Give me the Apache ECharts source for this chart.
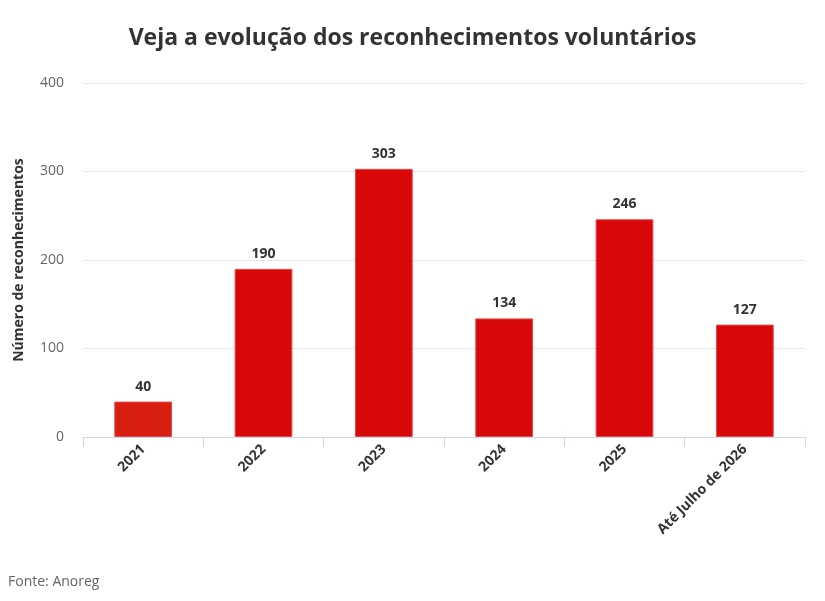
<!DOCTYPE html>
<html lang="pt">
<head>
<meta charset="UTF-8">
<title>Reconhecimentos voluntários</title>
<script src="https://cdn.jsdelivr.net/npm/echarts@6/dist/echarts.min.js"></script>
<style>
    html, body { margin: 0; padding: 0; background: #fff; }
</style>
</head>
<body>
<div id="chart" style="width: 825px; height: 601px"></div>
<script type="text/javascript">
    var categories = ['2021', '2022', '2023', '2024', '2025', 'Até Julho de 2026'];
    var values = [40, 190, 303, 134, 246, 127];
    var barColors = ['#d81e0e', '#d90808', '#d90808', '#d90808', '#d90808', '#d90808'];
    var yTicks = { min: 0, max: 400, interval: 100 };

    var font = '"Open Sans", sans-serif';
    var myChart = echarts.init(document.getElementById('chart'));

    var option = {
        animation: false,
        textStyle: { fontFamily: font },
        title: [{
            text: 'Veja a evolução dos reconhecimentos voluntários',
            left: 'center',
            top: 22,
            textStyle: { fontFamily: font, fontSize: 23, fontWeight: 'bold', color: '#333333' }
        }, {
            text: 'Fonte: Anoreg',
            left: 3,
            top: 570,
            textStyle: { fontFamily: font, fontSize: 14, fontWeight: 'normal', color: '#666666' }
        }],
        grid: { left: 83, right: 20, top: 83, bottom: 164 },
        xAxis: {
            type: 'category',
            data: categories,
            axisLine: { lineStyle: { color: '#ccd6eb' } },
            axisTick: { show: true, length: 10, lineStyle: { color: '#ccd6eb' } },
            axisLabel: {
                rotate: 45,
                interval: 0,
                margin: 10,
                fontFamily: font,
                fontSize: 14,
                fontWeight: 'bold',
                color: '#333333'
            }
        },
        yAxis: {
            type: 'value',
            min: yTicks.min,
            max: yTicks.max,
            interval: yTicks.interval,
            name: 'Número de reconhecimentos',
            nameLocation: 'middle',
            nameGap: 57,
            nameTextStyle: { fontFamily: font, fontSize: 14, fontWeight: 'bold', color: '#333333' },
            axisLabel: { fontFamily: font, fontSize: 14, color: '#666666', margin: 19 },
            splitLine: { lineStyle: { color: '#e6e6e6' } }
        },
        series: [{
            type: 'bar',
            barWidth: '48%',
            data: values.map(function (v, i) {
                return { value: v, itemStyle: { color: barColors[i] } };
            }),
            itemStyle: { borderColor: '#e8484a', borderWidth: 1 },
            label: {
                show: true,
                position: 'top',
                distance: 8,
                fontFamily: font,
                fontSize: 14,
                fontWeight: 'bold',
                color: '#333333'
            }
        }]
    };

    myChart.setOption(option);
</script>
</body>
</html>
